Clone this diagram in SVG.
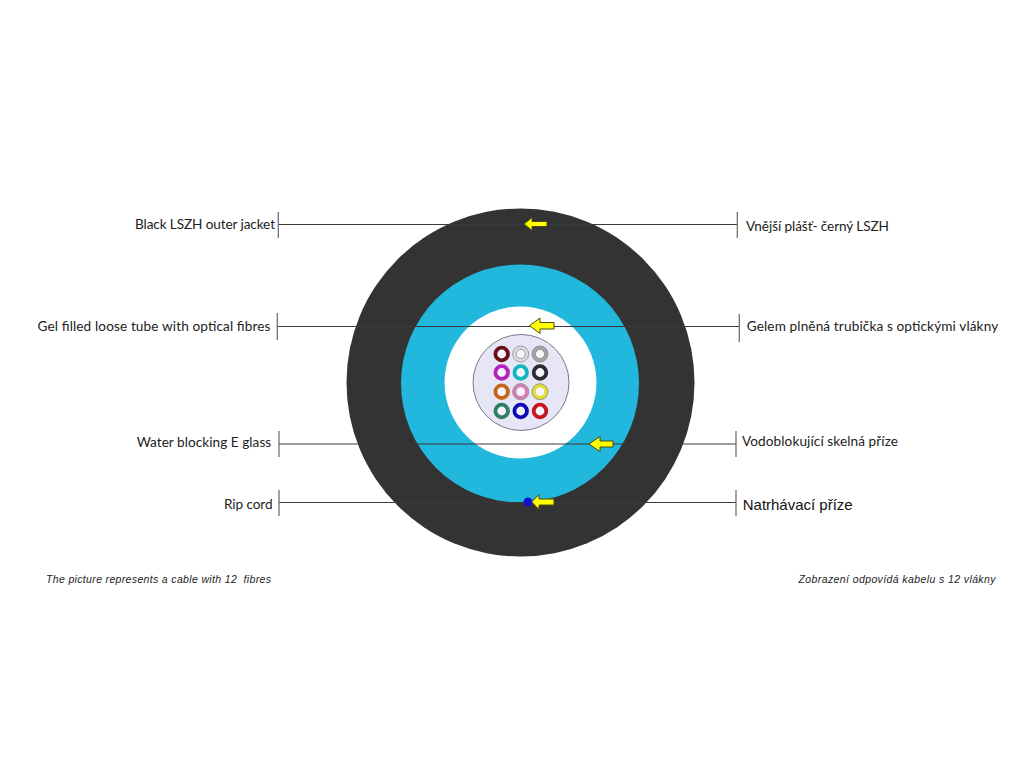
<svg xmlns="http://www.w3.org/2000/svg" width="1024" height="768" viewBox="0 0 1024 768">
<style>
.lbl{font-family:"Lato","Open Sans",sans-serif;font-size:13.6px;fill:#222}
.ar{font-family:"Liberation Sans",Arial,sans-serif;font-size:15px;fill:#111}
.note{font-family:"Liberation Sans",Arial,sans-serif;font-size:10.5px;font-style:italic;fill:#222}
.lead{stroke:#3a3a3a;stroke-width:1;fill:none}
.tick{stroke:#666;stroke-width:1.2;fill:none}
.arrow{fill:#ffff00;stroke:#4a4a10;stroke-width:1}
.fibre{fill:#f4f4fa;stroke-width:3.8}
.rim{fill:none;stroke:#8a8a90;stroke-width:.8}
</style>
<rect width="1024" height="768" fill="#fff"/>
<g id="cable">
<circle id="jacket" cx="520.5" cy="382.5" r="174" fill="#333333"/>
<circle id="yarn" cx="520" cy="383.5" r="119" fill="#22b7dd"/>
<circle id="gel" cx="520.5" cy="382.5" r="76" fill="#ffffff"/>
<circle id="tube" cx="521" cy="382.5" r="48" fill="#e6e6f7" stroke="#77778a" stroke-width="1"/>
</g>
<g id="fibres">
<circle class="fibre" cx="501.7" cy="354" r="6.3" stroke="#6b0f1a"/>
<circle class="fibre" cx="520.7" cy="354" r="6.3" stroke="#dcdce2"/>
<circle class="rim" cx="520.7" cy="354" r="8"/>
<circle class="rim" cx="520.7" cy="354" r="4.6"/>
<circle class="fibre" cx="540" cy="354" r="6.3" stroke="#a5a5a8"/>
<circle class="rim" cx="540" cy="354" r="8"/>
<circle class="rim" cx="540" cy="354" r="4.6"/>
<circle class="fibre" cx="501.7" cy="372.5" r="6.3" stroke="#b521c0"/>
<circle class="fibre" cx="520.7" cy="372.5" r="6.3" stroke="#12b5bd"/>
<circle class="fibre" cx="540" cy="372.5" r="6.3" stroke="#2b2b33"/>
<circle class="fibre" cx="501.7" cy="391.7" r="6.3" stroke="#c8651c"/>
<circle class="fibre" cx="520.7" cy="391.7" r="6.3" stroke="#d67fb5"/>
<circle class="rim" cx="520.7" cy="391.7" r="8"/>
<circle class="fibre" cx="540" cy="391.7" r="6.3" stroke="#e0dc30"/>
<circle class="rim" cx="540" cy="391.7" r="8"/>
<circle class="fibre" cx="501.7" cy="411" r="6.3" stroke="#2f7f63"/>
<circle class="fibre" cx="520.7" cy="411" r="6.3" stroke="#0a0ab8"/>
<circle class="fibre" cx="540" cy="411" r="6.3" stroke="#c8141e"/>
</g>
<g id="connectors">
<path class="lead" d="M278 224.5H737M277 326.5H739M279 444H736M279 502.5H736"/>
<path class="tick" d="M278.3 212V238M737.3 212V238M277.3 313V340M739.3 314V342M279 431V457M736 431V457M279 490V516M736 490V516"/>
</g>
<circle id="rip-cord" cx="528" cy="502" r="4.5" fill="#1212c8"/>
<g id="arrows">
<path class="arrow" d="M524 224L532 217.5V221.5H547V226.5H532V230.5Z"/>
<path class="arrow" d="M529.5 325.7L540 318V322.5H554V329H540V333.5Z"/>
<path class="arrow" d="M589 444L600 436.5V441H613V447H600V451.5Z"/>
<path class="arrow" d="M531.7 502L539 494.5V499H554V505H539V509.5Z"/>
</g>
<g id="label-jacket-en"><text class="lbl" x="135" y="229" textLength="140">Black LSZH outer jacket</text></g>
<g id="label-tube-en"><text class="lbl" x="37.5" y="331" textLength="233">Gel filled loose tube with optical fibres</text></g>
<g id="label-yarn-en"><text class="lbl" x="136.7" y="446.5" textLength="134.5">Water blocking E glass</text></g>
<g id="label-rip-en"><text class="lbl" x="224" y="509" textLength="48.5">Rip cord</text></g>
<g id="label-jacket-cz"><text class="lbl" x="746" y="230.5" textLength="143">Vnější plášť- černý LSZH</text></g>
<g id="label-tube-cz"><text class="lbl" x="746.7" y="331" textLength="251.5">Gelem plněná trubička s optickými vlákny</text></g>
<g id="label-yarn-cz"><text class="lbl" x="742" y="446" textLength="156">Vodoblokující skelná příze</text></g>
<g id="label-rip-cz"><text class="ar" x="742.7" y="510" textLength="110">Natrhávací příze</text></g>
<g id="note-en"><text class="note" x="46" y="583" textLength="225" xml:space="preserve">The picture represents a cable with 12  fibres</text></g>
<g id="note-cz"><text class="note" x="798.5" y="583" textLength="197">Zobrazení odpovídá kabelu s 12 vlákny</text></g>
</svg>
